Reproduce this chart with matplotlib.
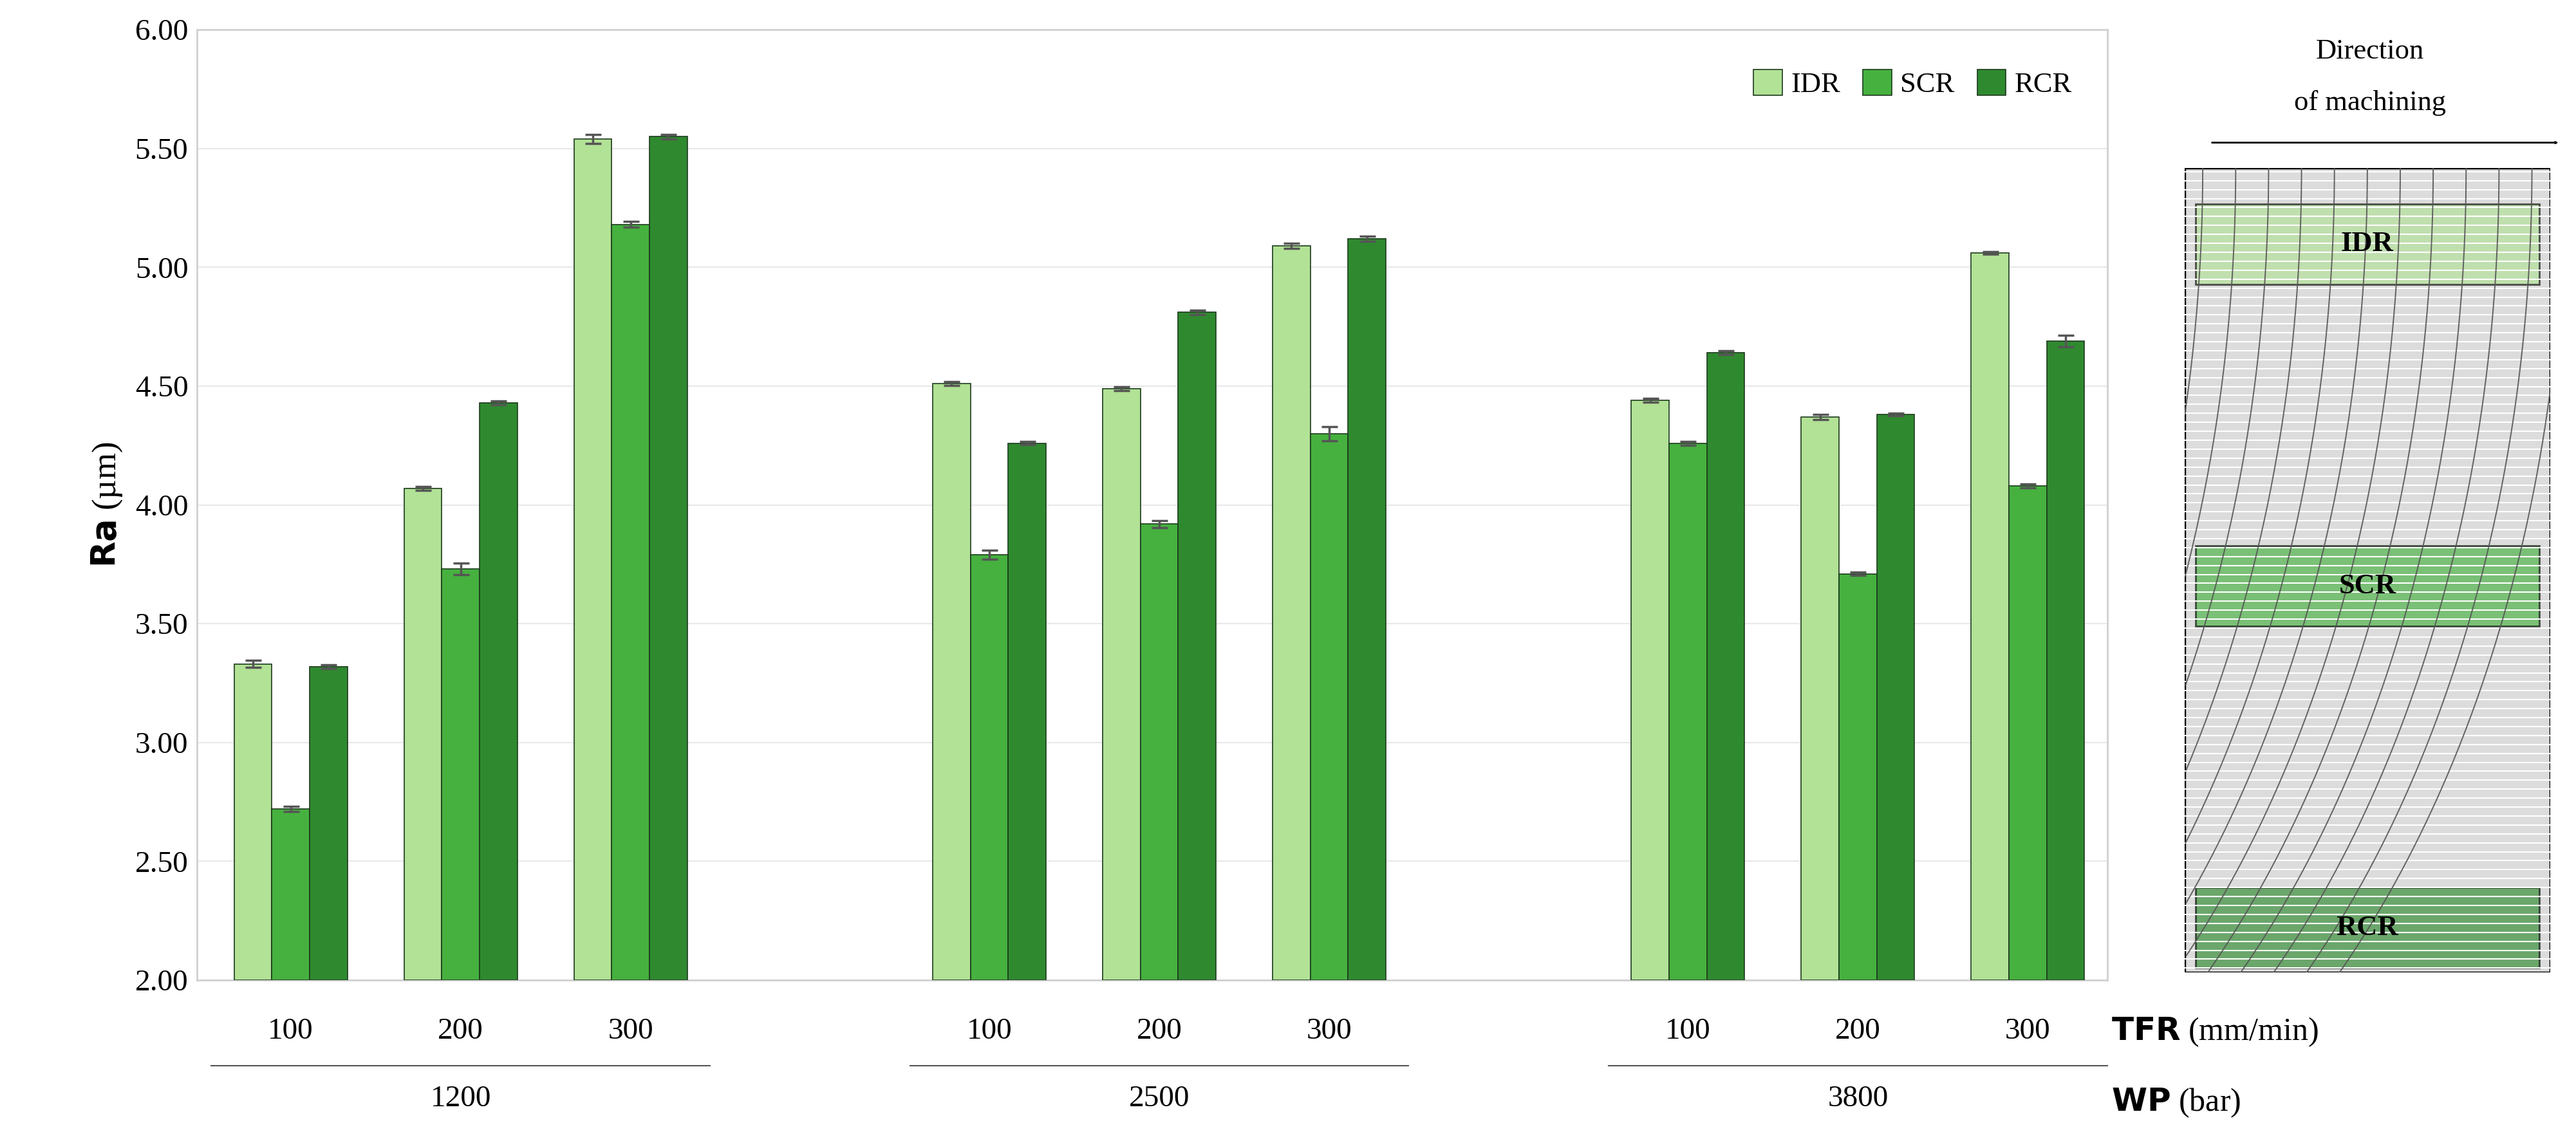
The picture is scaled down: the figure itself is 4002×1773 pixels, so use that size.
import numpy as np
from matplotlib import pyplot as plt
from matplotlib.patches import Rectangle, FancyArrowPatch

plt.rcParams["font.family"] = ["Liberation Serif", "DejaVu Serif"]

# Data
wp_levels = ["1200", "2500", "3800"]
tfr_levels = ["100", "200", "300"]
regions = ["IDR", "SCR", "RCR"]
colors = ["#b2e296", "#46b13f", "#2f8a2f"]

ra_idr = [3.33, 4.07, 5.54, 4.51, 4.49, 5.09, 4.44, 4.37, 5.06]
ra_scr = [2.72, 3.73, 5.18, 3.79, 3.92, 4.30, 4.26, 3.71, 4.08]
ra_rcr = [3.32, 4.43, 5.55, 4.26, 4.81, 5.12, 4.64, 4.38, 4.69]
err_idr = [0.015, 0.008, 0.02, 0.008, 0.008, 0.01, 0.008, 0.01, 0.005]
err_scr = [0.01, 0.025, 0.012, 0.018, 0.015, 0.03, 0.008, 0.006, 0.008]
err_rcr = [0.008, 0.008, 0.01, 0.006, 0.01, 0.01, 0.008, 0.006, 0.025]

fig = plt.figure(figsize=(40.02, 17.73), dpi=100)
ax = fig.add_axes([0.0765, 0.141, 0.7415, 0.833])

cluster_step = 4.5
group_step = 18.5
centers = np.array([g * group_step + c * cluster_step for g in range(3) for c in range(3)])

for i, (vals, errs) in enumerate(zip([ra_idr, ra_scr, ra_rcr], [err_idr, err_scr, err_rcr])):
    ax.bar(centers + (i - 1), np.array(vals) - 2, width=1, bottom=2, color=colors[i],
           edgecolor="#1d3a1d", linewidth=1.2, label=regions[i], zorder=3,
           yerr=errs, error_kw=dict(ecolor="#555555", elinewidth=2.5, capsize=9, capthick=2.5))

ax.set_ylim(2, 6)
ax.set_xlim(-2.48, 48.1)
ax.set_yticks(np.arange(2, 6.01, 0.5))
ax.set_yticklabels([f"{v:.2f}" for v in np.arange(2, 6.01, 0.5)], fontsize=34)
ax.set_xticks([])
ax.grid(axis="y", color="#e8e8e8", linewidth=1.5, zorder=0)
for s in ax.spines.values():
    s.set_color("#d0d0d0")
    s.set_linewidth(2)
ax.tick_params(axis="y", length=0, pad=10)
ax.set_ylabel("$\\mathbf{Ra}$ (µm)", fontsize=38, labelpad=12)

leg = ax.legend(loc="upper right", ncol=3, frameon=False, fontsize=32,
                handlelength=1.0, handleheight=1.0, columnspacing=0.8, handletextpad=0.3,
                bbox_to_anchor=(0.995, 0.985))

# Category labels below the axis
trans = ax.get_xaxis_transform()
for k, c in enumerate(centers):
    ax.text(c, -0.054, tfr_levels[k % 3], transform=trans, ha="center", va="center", fontsize=34)
for g in range(3):
    left = g * group_step - 2.1
    right = g * group_step + 2 * cluster_step + 2.1
    ax.plot([left, right], [-0.09, -0.09], transform=trans, color="#555555", lw=1.5, clip_on=False)
    ax.text(g * group_step + cluster_step, -0.125, wp_levels[g], transform=trans,
            ha="center", va="center", fontsize=34)
fig.text(0.8195, 0.0955, "$\\mathbf{TFR}$ (mm/min)", fontsize=36, va="center")
fig.text(0.8195, 0.0335, "$\\mathbf{WP}$ (bar)", fontsize=36, va="center")

# Sketch of machined surface
sk = fig.add_axes([0.848, 0.148, 0.142, 0.705])
sk.set_xlim(0, 1)
sk.set_ylim(0, 1)
sk.axis("off")
sk.add_patch(Rectangle((0, 0), 1, 1, facecolor="#dcdcdc", edgecolor="none"))
for y in np.linspace(0.005, 0.995, 90):
    sk.plot([0, 1], [y, y], color="white", lw=1.5)
R = 1.9
ys = np.linspace(0, 1, 200)
for x0 in np.arange(-0.85, 1.05, 0.09):
    xs = x0 - R + np.sqrt(R ** 2 - ((ys - 1) * 1.4) ** 2)
    m = (xs >= 0) & (xs <= 1)
    sk.plot(xs[m], ys[m], color="#555555", lw=1.4, alpha=0.9)
sk.add_patch(Rectangle((0, 0), 1, 1, facecolor="none", edgecolor="black", lw=2.5))
box_y = [0.855, 0.43, 0.005]
box_c = ["#b2e296", "#46b13f", "#2f8a2f"]
for yb, cb, name in zip(box_y, box_c, regions):
    sk.add_patch(Rectangle((0.03, yb), 0.94, 0.1, facecolor=cb, alpha=0.65,
                           edgecolor="black", lw=2))
    sk.text(0.5, yb + 0.05, name, ha="center", va="center", fontsize=32, fontweight="bold")

fig.add_artist(FancyArrowPatch((0.858, 0.875), (0.994, 0.875), transform=fig.transFigure,
                               arrowstyle="-|>,head_length=1.6,head_width=0.7", color="black", lw=2))
fig.text(0.92, 0.955, "Direction", ha="center", va="center", fontsize=32)
fig.text(0.92, 0.91, "of machining", ha="center", va="center", fontsize=32)

fig.savefig("out.png", dpi=100)
